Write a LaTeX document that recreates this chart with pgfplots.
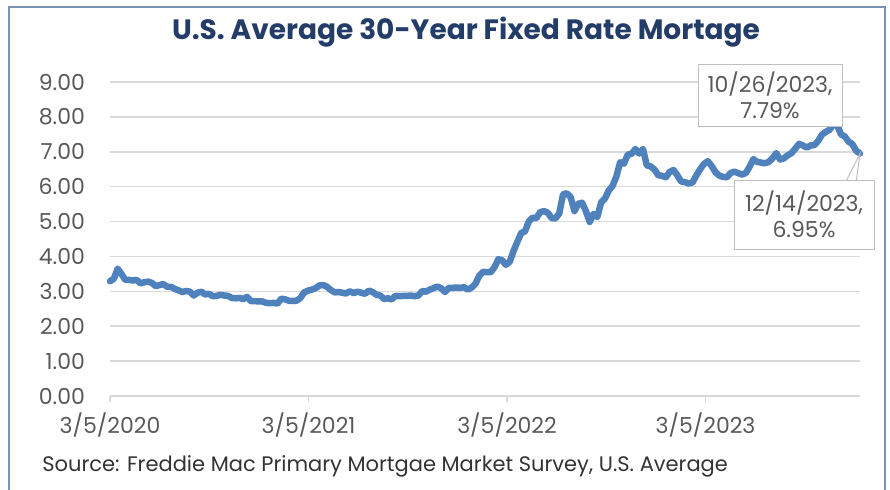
\documentclass[border=0pt]{standalone}
\usepackage{pgfplots}
\pgfplotsset{compat=1.18}
\usepackage{fontspec}
\setmainfont{Poppins}
\definecolor{linecol}{RGB}{79,129,189}
\definecolor{gridcol}{RGB}{217,217,217}
\definecolor{tickcol}{RGB}{89,89,89}
\definecolor{titlecol}{RGB}{36,60,104}
\definecolor{bordercol}{RGB}{124,146,181}
\definecolor{boxcol}{RGB}{191,191,191}

\begin{document}
\begin{tikzpicture}
\useasboundingbox (-55pt,-46.5pt) rectangle (390pt,198pt);
% chart frame (bottom edge is cropped off in the original)
\draw[bordercol, line width=1pt] (-50.25pt,-50pt) -- (-50.25pt,194.5pt) -- (387.5pt,194.5pt) -- (387.5pt,-50pt);

\begin{axis}[
  at={(0,0)}, anchor=origin,
  scale only axis, width=375pt, height=157pt,
  xmin=0, xmax=1379, ymin=0, ymax=9,
  axis x line*=bottom, axis y line*=left,
  x axis line style={gridcol, line width=0.75pt},
  y axis line style={draw=none},
  ymajorgrids, grid style={gridcol, line width=0.75pt},
  xtick={0,365,730,1095},
  xticklabels={3/5/2020,3/5/2021,3/5/2022,3/5/2023},
  ytick={0,1,...,9},
  tick align=outside, major tick length=3pt,
  xtick style={gridcol, line width=0.75pt},
  ytick style={draw=none},
  tick label style={font=\fontsize{11}{13}\selectfont, text=tickcol},
  yticklabel style={xshift=-6pt, /pgf/number format/.cd, fixed, fixed zerofill, precision=2, assume math mode=true},
  xticklabel style={yshift=-2pt},
  clip=false,
]
\addplot[linecol, line width=3.25pt, line join=round, line cap=round] coordinates {
(0,3.29) (7,3.36) (14,3.65) (21,3.50) (28,3.33) (35,3.33) (42,3.31) (49,3.33) (56,3.23) (63,3.26)
(70,3.28) (77,3.24) (84,3.15) (91,3.18) (98,3.21) (105,3.13) (112,3.13) (119,3.07) (126,3.03) (133,2.98)
(140,3.01) (147,2.99) (154,2.88) (161,2.96) (168,2.99) (175,2.91) (182,2.93) (189,2.86) (196,2.87) (203,2.90)
(210,2.88) (217,2.87) (224,2.81) (231,2.80) (238,2.81) (245,2.78) (252,2.84) (259,2.72) (266,2.72) (273,2.71)
(280,2.71) (287,2.67) (294,2.66) (301,2.67) (308,2.65) (315,2.79) (322,2.77) (329,2.73) (336,2.73) (343,2.73)
(350,2.81) (357,2.97) (364,3.02) (371,3.05) (378,3.09) (385,3.17) (392,3.18) (399,3.13) (406,3.04) (413,2.97)
(420,2.98) (427,2.96) (434,2.94) (441,3.00) (448,2.95) (455,2.99) (462,2.96) (469,2.93) (476,3.02) (483,2.98)
(490,2.90) (497,2.88) (504,2.78) (511,2.80) (518,2.77) (525,2.87) (532,2.86) (539,2.87) (546,2.87) (553,2.88)
(560,2.86) (567,2.88) (574,3.01) (581,2.99) (588,3.05) (595,3.09) (602,3.14) (609,3.09) (616,2.98) (623,3.10)
(630,3.10) (637,3.11) (644,3.10) (651,3.12) (658,3.05) (665,3.11) (672,3.22) (679,3.45) (686,3.56) (693,3.55)
(700,3.55) (707,3.69) (714,3.92) (721,3.89) (728,3.76) (735,3.85) (742,4.16) (749,4.42) (756,4.67) (763,4.72)
(770,5.00) (777,5.11) (784,5.10) (791,5.27) (798,5.30) (805,5.25) (812,5.10) (819,5.09) (826,5.23) (833,5.78)
(840,5.81) (847,5.70) (854,5.30) (861,5.51) (868,5.54) (875,5.30) (882,4.99) (889,5.22) (896,5.13) (903,5.55)
(910,5.66) (917,5.89) (924,6.02) (931,6.29) (938,6.70) (945,6.66) (952,6.92) (959,6.94) (966,7.08) (973,6.95)
(980,7.08) (987,6.61) (994,6.58) (1001,6.49) (1008,6.33) (1015,6.31) (1022,6.27) (1029,6.42) (1036,6.48) (1043,6.33)
(1050,6.15) (1057,6.13) (1064,6.09) (1071,6.12) (1078,6.32) (1085,6.50) (1092,6.65) (1099,6.73) (1106,6.60) (1113,6.42)
(1120,6.32) (1127,6.28) (1134,6.27) (1141,6.39) (1148,6.43) (1155,6.39) (1162,6.35) (1169,6.39) (1176,6.57) (1183,6.79)
(1190,6.71) (1197,6.69) (1204,6.67) (1211,6.71) (1218,6.81) (1225,6.96) (1232,6.78) (1239,6.81) (1246,6.90) (1253,6.96)
(1260,7.09) (1267,7.23) (1274,7.18) (1281,7.12) (1288,7.18) (1295,7.19) (1302,7.31) (1309,7.49) (1316,7.57) (1323,7.63)
(1330,7.79) (1337,7.76) (1344,7.50) (1351,7.44) (1358,7.29) (1365,7.22) (1372,7.03) (1379,6.95)
};
% data callouts
\node[draw=boxcol, fill=white, text=tickcol, align=center, minimum width=72pt, minimum height=31pt,
  inner sep=1pt, font=\fontsize{11}{13}\selectfont] at (axis cs:1213.5,8.63) {10/26/2023,\\7.79\%};
\draw[boxcol, line width=0.5pt] (axis cs:1327,5.33) -- (axis cs:1379,6.95) -- (axis cs:1365,5.33);
\node[draw=boxcol, fill=white, text=tickcol, align=center, minimum width=70pt, minimum height=34.5pt,
  inner sep=1pt, font=\fontsize{11}{13}\selectfont] (b2) at (axis cs:1276,5.20) {12/14/2023,\\6.95\%};
\end{axis}

\node[text=titlecol, font=\fontsize{14}{16}\selectfont\bfseries] at (178pt,182pt) {U.S. Average 30-Year Fixed Rate Mortage};
\node[anchor=west, text=black!80, inner sep=0pt, font=\fontsize{10.5}{12}\selectfont] at (-34pt,-35pt) {Source: Freddie Mac Primary Mortgae Market Survey, U.S. Average};
\end{tikzpicture}
\end{document}
